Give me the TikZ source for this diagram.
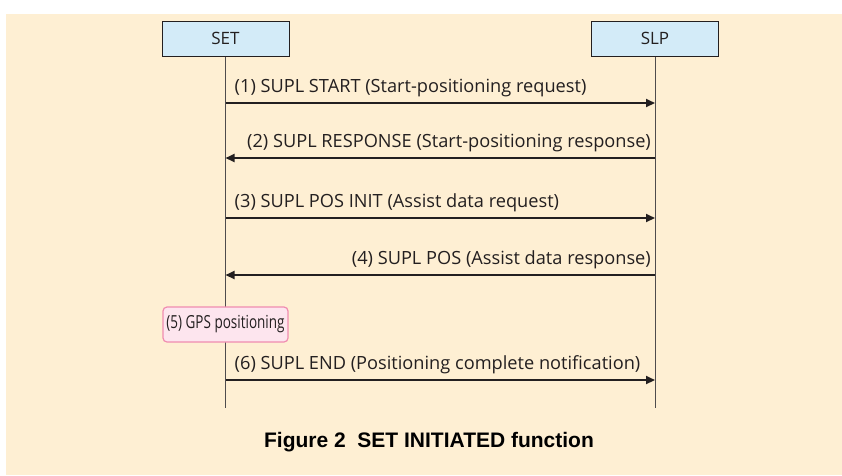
\documentclass[tikz,border=0pt]{standalone}
\usepackage{fontspec}
\setmainfont{Open Sans}
\newfontfamily\capfont{Liberation Sans}
\usepackage{tikz}
\usetikzlibrary{arrows,arrows.meta}
\usetikzlibrary{positioning}
\usepackage{xcolor}
\definecolor{bgbeige}{HTML}{FEEFD3}
\definecolor{boxblue}{HTML}{D3EBF8}
\definecolor{gpspink}{HTML}{FDE5EE}
\definecolor{gpsedge}{HTML}{F08CB0}
\definecolor{inkgray}{HTML}{231F20}

\begin{document}
\begin{tikzpicture}[x=1pt,y=-1pt]
		\tikzstyle{entity} = [draw=inkgray, fill=boxblue, line width=1pt, minimum width=127pt, minimum height=35pt, inner sep=0pt, text=inkgray, font=\fontsize{17}{19}\selectfont]
		\tikzstyle{lifeline} = [draw=inkgray!80, line width=0.9pt]
		\tikzstyle{msg} = [draw=inkgray, line width=2pt, -{Stealth[length=9pt,width=8pt,inset=0pt]}]
		\tikzstyle{lbl} = [draw=none, fill=none, text=inkgray, inner sep=0pt, font=\fontsize{18.2}{20}\selectfont]
		\tikzstyle{gps} = [draw=gpsedge, fill=gpspink, line width=1.2pt, rounded corners=4pt, minimum width=125pt, minimum height=35pt, inner sep=0pt, text=inkgray]
		\useasboundingbox (0,0) rectangle (842,475);
		\fill[bgbeige] (6,14) rectangle (842,475);
		
		\node[entity] (set) at (225.5,38.5) {SET};
		\node[entity] (slp) at (655,38.5) {SLP};
		\coordinate (setend) at (225.5,408);
		\coordinate (slpend) at (655,408);
		\draw [lifeline] (set) -- (setend);
		\draw [lifeline] (slp.south -| slpend) -- (slpend);
		
		% messages
		\coordinate (s1) at (225.5,103); \coordinate (p1) at (655,103);
		\coordinate (s2) at (225.5,158); \coordinate (p2) at (655,158);
		\coordinate (s3) at (225.5,218); \coordinate (p3) at (655,218);
		\coordinate (s4) at (225.5,275); \coordinate (p4) at (655,275);
		\coordinate (s6) at (225.5,380); \coordinate (p6) at (655,380);
		
		\draw [msg] (s1) -- (p1);
		\draw [msg] (p2) -- (s2);
		\draw [msg] (s3) -- (p3);
		\draw [msg] (p4) -- (s4);
		\draw [msg] (s6) -- (p6);
		
		\node[lbl, above right=6pt and 9pt of s1] (m1) {(1) SUPL START (Start-positioning request)};
		\node[lbl, above left=6pt and 4pt of p2] (m2) {(2) SUPL RESPONSE (Start-positioning response)};
		\node[lbl, above right=6pt and 9pt of s3] (m3) {(3) SUPL POS INIT (Assist data request)};
		\node[lbl, above left=6pt and 4pt of p4] (m4) {(4) SUPL POS (Assist data response)};
		\node[lbl, above right=6pt and 9pt of s6] (m6) {(6) SUPL END (Positioning complete notification)};
		
		\node[gps] (m5) at (225.5,324.5) {\scalebox{0.75}[1]{\fontsize{18}{20}\selectfont (5) GPS positioning}};
		
		\node[text=black, font=\capfont\bfseries\fontsize{21}{23}\selectfont] (caption) at (429,442) {Figure 2\ \ SET INITIATED function};
		
\end{tikzpicture}
\end{document}
